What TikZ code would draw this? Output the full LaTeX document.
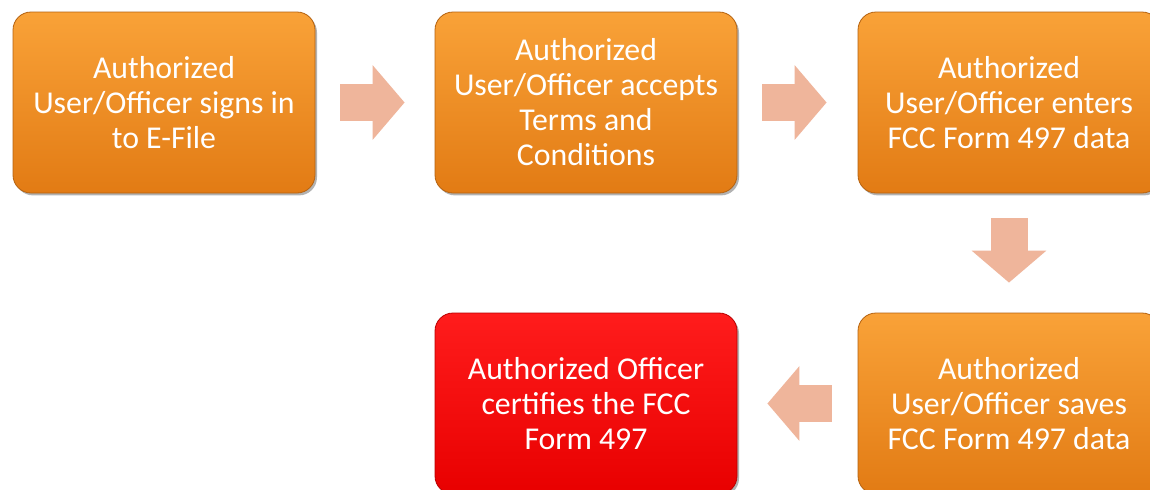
\documentclass[tikz,border=0pt]{standalone}
\usepackage{fontspec}
\setmainfont{Carlito}
\usetikzlibrary{arrows.meta,shadows}
\definecolor{boxtop}{HTML}{F9A238}
\definecolor{boxbot}{HTML}{E27B14}
\definecolor{redtop}{HTML}{FF1C1C}
\definecolor{redbot}{HTML}{E80000}
\definecolor{peach}{HTML}{EFB59B}
\begin{document}
\begin{tikzpicture}[
    x=0.5pt, y=-0.5pt,
    stepbox/.style={rectangle, top color=boxtop, bottom color=boxbot, draw=boxbot!80!black, line width=0.4pt,
        minimum width=151pt, minimum height=90.5pt, inner sep=0pt, rounded corners=9pt, align=center,
        text=white, font=\fontsize{15.9pt}{17.5pt}\selectfont,
        drop shadow={shadow xshift=1pt, shadow yshift=-1.2pt, opacity=0.3, fill=black}},
    finalbox/.style={stepbox, top color=redtop, bottom color=redbot, draw=redbot!80!black},
    arrow/.style={line width=18.5pt, draw=peach, -{Triangle[length=16pt, width=36.5pt]}}
]
    \useasboundingbox (0,0) rectangle (1150,489);
    \fill[white] (0,0) rectangle (1150,489);

    \node[stepbox] (signin) at (164,102.5) {Authorized\\User/Officer signs in\\to E-File};
    \node[stepbox] (accept) at (586,102.5) {Authorized\\User/Officer accepts\\Terms and\\Conditions};
    \node[stepbox] (enter) at (1009,102.5) {Authorized\\User/Officer enters\\FCC Form 497 data};
    \node[stepbox] (save) at (1009,403.5) {Authorized\\User/Officer saves\\FCC Form 497 data};
    \node[finalbox] (certify) at (586,403.5) {Authorized Officer\\certifies the FCC\\Form 497};

    \draw[arrow, shorten <=12.5pt, shorten >=15pt] (signin) -- (accept);
    \draw[arrow, shorten <=12.5pt, shorten >=15.5pt] (accept) -- (enter);
    \draw[arrow, shorten <=12.5pt, shorten >=15pt] (enter) -- (save);
    \draw[arrow, shorten <=13pt, shorten >=15pt] (save) -- (certify);
\end{tikzpicture}
\end{document}
